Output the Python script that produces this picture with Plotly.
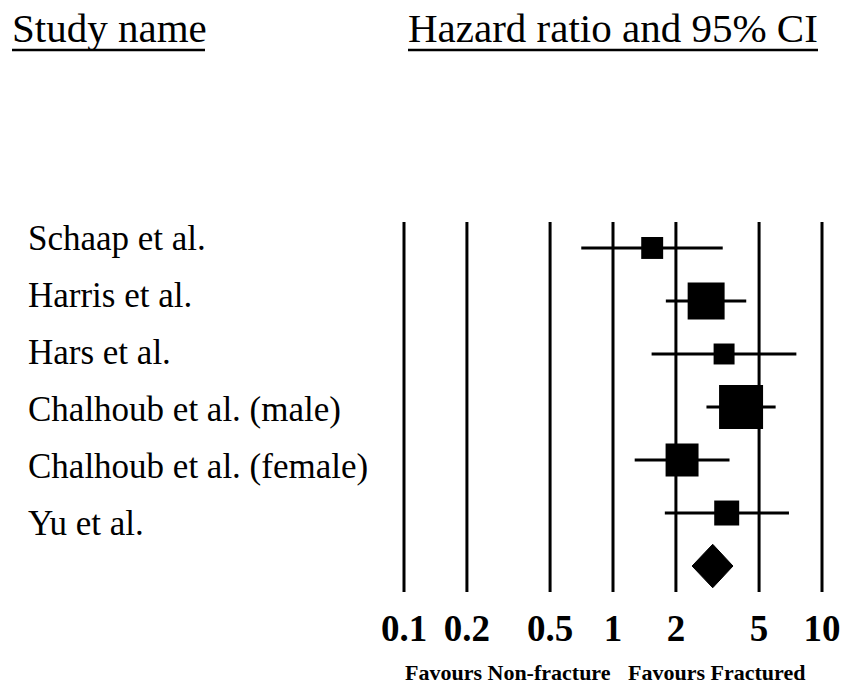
import math
import plotly.graph_objects as go

# ---- data ----
studies = ["Schaap et al.", "Harris et al.", "Hars et al.",
           "Chalhoub et al. (male)", "Chalhoub et al. (female)", "Yu et al."]
hr = [1.54, 2.79, 3.40, 4.10, 2.14, 3.50]
ci_low = [0.705, 1.79, 1.53, 2.80, 1.27, 1.77]
ci_high = [3.35, 4.34, 7.54, 6.00, 3.61, 6.95]
weights = [8.1, 23.0, 7.4, 32.6, 18.3, 10.5]
pooled_hr = 3.00
pooled_low = 2.39
pooled_high = 3.75
tick_vals = [0.1, 0.2, 0.5, 1, 2, 5, 10]
tick_text = ["0.1", "0.2", "0.5", "1", "2", "5", "10"]

# ---- layout constants (pixels) ----
W, H = 856, 685
L, R, T, B = 394, 24, 222, 93
pw, ph = W - L - R, H - T - B
xr = 10 / 209.0
x_range = [-1 - xr, 1 + xr]
n = len(studies)
y_range = [n + 0.49, -0.49]


def px_x(p):
    return (p - L) / pw


def px_y(p):
    return (H - B - p) / ph


serif = "Liberation Serif, Times New Roman, serif"
fig = go.Figure()

# CI lines
lx, ly = [], []
for i in range(n):
    lx += [ci_low[i], ci_high[i], None]
    ly += [i, i, None]
fig.add_trace(go.Scatter(x=lx, y=ly, mode="lines",
                         line=dict(color="black", width=3),
                         hoverinfo="skip", showlegend=False))

# squares
size_k = 44 / math.sqrt(max(weights))
fig.add_trace(go.Scatter(x=hr, y=list(range(n)), mode="markers",
                         marker=dict(symbol="square", color="black", opacity=1,
                                     size=[math.sqrt(w) * size_k for w in weights],
                                     line=dict(width=0)),
                         showlegend=False))

# pooled diamond
dh = 0.41
yd = n
fig.add_trace(go.Scatter(x=[pooled_low, pooled_hr, pooled_high, pooled_hr, pooled_low],
                         y=[yd, yd - dh, yd, yd + dh, yd],
                         mode="lines", fill="toself", fillcolor="black",
                         line=dict(color="black", width=1),
                         showlegend=False))

shapes = []
for v in tick_vals:
    shapes.append(dict(type="line", xref="x", yref="paper", x0=v, x1=v, y0=0, y1=1,
                       line=dict(color="black", width=3), layer="below"))
# header underlines
shapes.append(dict(type="line", xref="paper", yref="paper",
                   x0=px_x(12), x1=px_x(205), y0=px_y(50), y1=px_y(50),
                   line=dict(color="black", width=2.5)))
shapes.append(dict(type="line", xref="paper", yref="paper",
                   x0=px_x(408), x1=px_x(818), y0=px_y(50), y1=px_y(50),
                   line=dict(color="black", width=2.5)))

annotations = []
for i, s in enumerate(studies):
    annotations.append(dict(text=s, xref="paper", yref="y", x=px_x(26), y=-0.17 + 1.072 * i,
                            xanchor="left", yanchor="middle", showarrow=False,
                            font=dict(family=serif, size=35, color="black")))
annotations.append(dict(text="Study name", xref="paper", yref="paper", x=px_x(10), y=px_y(28),
                        xanchor="left", yanchor="middle", showarrow=False,
                        font=dict(family=serif, size=41, color="black")))
# annotation x on a log axis is given in log10 units: 0 -> HR = 1
annotations.append(dict(text="Hazard ratio and 95% CI", xref="x", yref="paper", x=math.log10(1),
                        y=px_y(28), xanchor="center", yanchor="middle", showarrow=False,
                        font=dict(family=serif, size=41, color="black")))
annotations.append(dict(text="<b>Favours Non-fracture</b>", xref="x", yref="paper", x=math.log10(1),
                        y=px_y(672), xanchor="right", yanchor="middle", showarrow=False,
                        font=dict(family=serif, size=22, color="black")))
annotations.append(dict(text="<b>Favours Fractured</b>", xref="x", yref="paper", x=math.log10(1),
                        y=px_y(672), xanchor="left", yanchor="middle", showarrow=False, xshift=13,
                        font=dict(family=serif, size=22, color="black")))

fig.update_layout(
    width=W, height=H,
    margin=dict(l=L, r=R, t=T, b=B, pad=0),
    paper_bgcolor="white", plot_bgcolor="white",
    xaxis=dict(type="log", range=x_range, tickvals=tick_vals,
               ticktext=["<b>%s</b>" % t for t in tick_text],
               tickfont=dict(family=serif, size=37, color="black"),
               showgrid=False, zeroline=False, showline=False, ticks="",
               ticklabelstandoff=11, fixedrange=True),
    yaxis=dict(range=y_range, showticklabels=False, showgrid=False,
               zeroline=False, showline=False, ticks="", fixedrange=True),
    shapes=shapes, annotations=annotations,
    showlegend=False,
)

fig.write_html("out.html", config={"displayModeBar": False},
               post_script="document.body.style.margin='0px';")
